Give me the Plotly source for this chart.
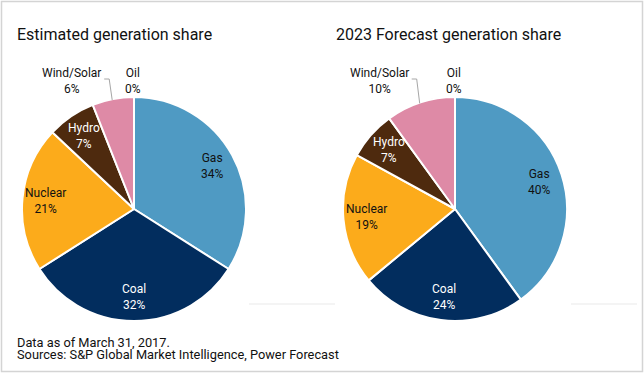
import math
import plotly.graph_objects as go

categories = ["Gas", "Coal", "Nuclear", "Hydro", "Wind/Solar", "Oil"]
estimated = [34, 32, 21, 7, 6, 0]
forecast = [40, 24, 19, 7, 10, 0]
titles = ["Estimated generation share", "2023 Forecast generation share"]
notes = ["Data as of March 31, 2017.",
         "Sources: S&P Global Market Intelligence, Power Forecast"]
colors = ["#4F9AC3", "#022D5E", "#FCAB1B", "#4E2A0E", "#DE8AA6", "#9A9A9A"]
inside_text_colors = ["#111111", "#FFFFFF", "#111111", "#FFFFFF"]

W, H = 644, 375
R = 112
centers = [(134, 209), (455, 209)]
FONT = "Roboto"

fig = go.Figure()
annotations = []
shapes = []

def px(x):
    return x / W

def py(y):
    return 1 - y / H

for k, (vals, (cx, cy)) in enumerate(zip([estimated, forecast], centers)):
    fig.add_trace(go.Pie(
        labels=categories, values=vals, sort=False, direction="clockwise",
        marker=dict(colors=colors, line=dict(color="white", width=2)),
        textinfo="none", hoverinfo="skip", showlegend=False,
        domain=dict(x=[px(cx - R), px(cx + R)], y=[py(cy + R), py(cy - R)]),
    ))
    total = sum(vals)
    cum = 0
    for i, (cat, v) in enumerate(zip(categories, vals)):
        mid = (cum + v / 2) / total * 2 * math.pi
        cum += v
        label = f"{cat}<br>{v}%"
        if i < 4:
            r = 0.79 * R
            x = cx + r * math.sin(mid)
            y = cy - r * math.cos(mid)
            annotations.append(dict(
                x=px(x), y=py(y), xref="paper", yref="paper", text=label,
                showarrow=False, font=dict(family=FONT, size=12, color=inside_text_colors[i]),
                xanchor="center", yanchor="middle"))
        elif cat == "Wind/Solar":
            ex = cx + (R - 1) * math.sin(mid)
            ey = cy - (R - 1) * math.cos(mid)
            annotations.append(dict(
                x=px(ex - 10), y=py(81), xref="paper", yref="paper", text=label,
                showarrow=False, font=dict(family=FONT, size=12, color="#111111"),
                xanchor="right", yanchor="middle", align="center"))
            shapes.append(dict(
                type="path", xref="paper", yref="paper",
                path=f"M {px(ex - 9)} {py(79)} L {px(ex - 4)} {py(79)} L {px(ex - 1)} {py(ey)}",
                line=dict(color="#A6A6A6", width=1)))
        else:
            annotations.append(dict(
                x=px(cx - 1), y=py(81), xref="paper", yref="paper", text=label,
                showarrow=False, font=dict(family=FONT, size=12, color="#111111"),
                xanchor="center", yanchor="middle"))

annotations.append(dict(x=px(15), y=py(34), xref="paper", yref="paper", text=titles[0],
                        showarrow=False, xanchor="left", yanchor="middle",
                        font=dict(family=FONT, size=16, color="#111111")))
annotations.append(dict(x=px(334), y=py(34), xref="paper", yref="paper", text=titles[1],
                        showarrow=False, xanchor="left", yanchor="middle",
                        font=dict(family=FONT, size=16, color="#111111")))
for note, ny in zip(notes, [342.5, 354.5]):
    annotations.append(dict(x=px(15), y=py(ny), xref="paper", yref="paper",
                            text=note, showarrow=False, xanchor="left", yanchor="middle",
                            font=dict(family=FONT, size=12.8, color="#111111")))

shapes.append(dict(type="rect", xref="paper", yref="paper",
                   x0=px(1.5), x1=px(642.5), y0=py(371.5), y1=py(1.5),
                   line=dict(color="#D4D4D4", width=1.5)))
shapes.append(dict(type="line", xref="paper", yref="paper",
                   x0=px(249), x1=px(335), y0=py(304), y1=py(304),
                   line=dict(color="#F0F0F0", width=1.5)))
shapes.append(dict(type="line", xref="paper", yref="paper",
                   x0=px(571), x1=px(637), y0=py(304), y1=py(304),
                   line=dict(color="#F0F0F0", width=1.5)))

fig.update_layout(
    width=W, height=H, margin=dict(l=0, r=0, t=0, b=0),
    paper_bgcolor="white", plot_bgcolor="white",
    annotations=annotations, shapes=shapes,
)
fig.write_html("out.html", config={"displayModeBar": False},
               post_script="document.body.style.margin='0';document.body.style.overflow='hidden';")
